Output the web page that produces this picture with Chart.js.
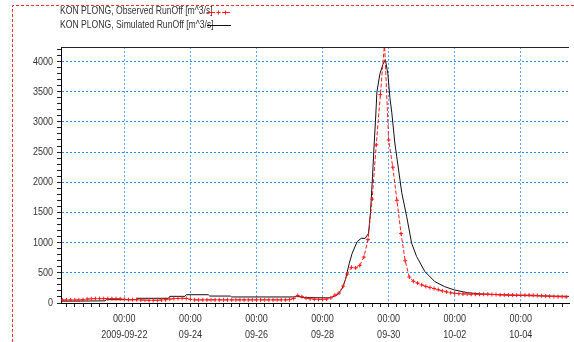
<!DOCTYPE html>
<html>
<head>
<meta charset="utf-8">
<script src="https://cdn.jsdelivr.net/npm/chart.js@4/dist/chart.umd.min.js"></script>
<style>
  body { margin: 0; background: #fff; }
  #wrap { position: relative; width: 574px; height: 342px; }
</style>
</head>
<body>
<div id="wrap"><canvas id="myChart" width="574" height="342"></canvas></div>
<script>
// series names
const seriesNames = ['KON PLONG, Observed RunOff [m^3/s]', 'KON PLONG, Simulated RunOff [m^3/s]'];

// hours counted from 2009-09-22 00:00
const obsStartHour = -45;
const obsStepHours = 3;
const obsValues = [
  50, 50, 50, 50, 50, 55, 65, 70, 72, 72,
  72, 72, 72, 72, 70, 60, 55, 55, 55, 50,
  48, 45, 45, 45, 50, 55, 65, 72, 75, 78,
  75, 60, 52, 52, 52, 52, 52, 52, 52, 52,
  52, 52, 52, 52, 52, 52, 52, 52, 52, 52,
  52, 52, 52, 52, 52, 55, 75, 125, 105, 80,
  70, 62, 60, 60, 65, 85, 130, 165, 280, 480,
  590, 580, 620, 760, 1050, 1720, 2620, 3450, 4300, 2700,
  2250, 1700, 1150, 700, 430, 360, 330, 300, 275, 255,
  240, 220, 200, 185, 170, 160, 155, 150, 150, 145,
  145, 145, 145, 145, 140, 140, 135, 135, 132, 132,
  130, 130, 130, 130, 128, 125, 120, 115, 110, 108,
  105, 105, 100
];

const simHours = [
  -46, -14, -13, 8, 9, 32, 33, 44, 45, 61, 62, 77, 78, 123, 126, 130, 148,
  149.7, 154.7, 158.3, 160.5, 163.4, 165.5, 169.1, 172, 174.9, 177.4, 178.8,
  180.3, 181.4, 182.4, 183.5, 185.7, 187.8, 189.6, 191.4, 192.9, 194.3, 196.5,
  197.9, 201.5, 205.1, 208.7, 212.3, 218.3, 225.5, 232.7, 239.9, 249.5, 259.1,
  269.9, 284.3, 305.9, 323.1
];
const simValues = [
  30, 35, 55, 55, 78, 78, 110, 110, 137, 137, 115, 115, 100, 100, 110, 90, 85,
  90, 132, 243, 381, 657, 823, 1015, 1071, 1071, 1154, 1500,
  2100, 2600, 3000, 3500, 3800, 3950, 4030, 3800, 3400, 3150, 2650,
  2420, 1830, 1430, 990, 770, 520, 355, 270, 215, 170, 150,
  140, 125, 116, 110
];

// axis
const xMinHour = -46;
const xMaxHour = 323;
const xTickHours = [0, 48, 96, 144, 192, 240, 288];
const xTickLabels = [
  ['00:00', '2009-09-22'], ['00:00', '09-24'], ['00:00', '09-26'], ['00:00', '09-28'],
  ['00:00', '09-30'], ['00:00', '10-02'], ['00:00', '10-04']
];
const yMax = 4240;
const yTickValues = [0, 500, 1000, 1500, 2000, 2500, 3000, 3500, 4000];

const FONT = '"Liberation Sans Narrow", "Arial Narrow", "Liberation Sans", sans-serif';
const NARROW = 0.82; // no narrow font installed, squeeze the text instead

const obsData = obsValues.map(function(v, i) { return {x: obsStartHour + i * obsStepHours, y: v}; });
const simData = simValues.map(function(v, i) { return {x: simHours[i], y: v}; });

// squeeze every text horizontally round its anchor point
const narrowText = {
  id: 'narrowText',
  beforeInit: function(chart) {
    const c = chart.ctx;
    const orig = c.fillText;
    c.fillText = function(text, x, y, maxWidth) {
      this.save();
      this.translate(x, y);
      this.scale(NARROW, 1);
      orig.call(this, text, 0, 0);
      this.restore();
    };
  }
};

// frame, legend, top border
const framePlugin = {
  id: 'framePlugin',
  afterDraw: function(chart) {
    const c = chart.ctx;
    const a = chart.chartArea;
    c.save();
    c.strokeStyle = '#222';
    c.lineWidth = 1;
    c.beginPath();
    c.moveTo(a.left, a.top + 0.5);
    c.lineTo(a.right, a.top + 0.5);
    c.stroke();

    c.strokeStyle = '#ff2a2a';
    c.setLineDash([3, 2]);
    c.beginPath();
    c.moveTo(12.5, chart.height);
    c.lineTo(12.5, 5.5);
    c.lineTo(chart.width, 5.5);
    c.stroke();

    // legend
    c.font = '10.5px ' + FONT;
    c.fillStyle = '#333';
    c.textBaseline = 'middle';
    c.textAlign = 'left';
    c.fillText(seriesNames[0], 60, 11.5);
    c.fillText(seriesNames[1], 60, 25.5);

    c.strokeStyle = '#ff2020';
    c.setLineDash([3, 2]);
    c.beginPath();
    c.moveTo(207, 12.5);
    c.lineTo(231, 12.5);
    c.stroke();
    c.setLineDash([]);
    [211.5, 218.5, 225.5].forEach(function(px) {
      c.beginPath();
      c.moveTo(px - 2, 12.5); c.lineTo(px + 2, 12.5);
      c.moveTo(px, 10.5); c.lineTo(px, 14.5);
      c.stroke();
    });
    c.strokeStyle = '#111';
    c.beginPath();
    c.moveTo(207, 25.5);
    c.lineTo(231, 25.5);
    c.stroke();
    c.restore();
  }
};

new Chart(document.getElementById('myChart'), {
  type: 'line',
  data: {
    datasets: [{
      label: seriesNames[0],
      data: obsData,
      borderColor: '#ff1a1a',
      borderWidth: 1,
      borderDash: [4, 2],
      pointStyle: 'cross',
      pointRadius: 2,
      pointBorderColor: '#ff1a1a',
      pointBorderWidth: 1,
      tension: 0
    }, {
      label: seriesNames[1],
      data: simData,
      borderColor: '#111',
      borderWidth: 1,
      pointRadius: 0,
      tension: 0
    }]
  },
  options: {
    responsive: false,
    animation: false,
    layout: { padding: { top: 47, left: 0, right: 0, bottom: 0 } },
    plugins: { legend: { display: false }, tooltip: { enabled: false } },
    scales: {
      x: {
        type: 'linear',
        min: xMinHour,
        max: xMaxHour,
        afterBuildTicks: function(scale) {
          const t = [];
          for (let h = -42; h <= xMaxHour; h += 6) t.push({value: h});
          scale.ticks = t;
        },
        afterFit: function(scale) { scale.height = 39; },
        ticks: {
          autoSkip: false,
          maxRotation: 0,
          padding: 4,
          color: '#333',
          font: { family: FONT, size: 11, lineHeight: '16px' },
          callback: function(value) {
            const i = xTickHours.indexOf(value);
            return i >= 0 ? xTickLabels[i] : '';
          }
        },
        grid: {
          color: function(ctx) {
            return ctx.tick && xTickHours.indexOf(ctx.tick.value) >= 0 ? '#5aa8f0' : 'rgba(0,0,0,0)';
          },
          tickColor: '#222',
          tickLength: 4,
          tickBorderDash: []
        },
        border: { color: '#000', width: 1, dash: [2, 2] }
      },
      y: {
        min: 0,
        max: yMax,
        afterBuildTicks: function(scale) {
          const t = [];
          for (let v = 0; v <= 4200; v += 100) t.push({value: v});
          scale.ticks = t;
        },
        afterFit: function(scale) { scale.width = 61; },
        ticks: {
          autoSkip: false,
          padding: 4,
          color: '#333',
          font: { family: FONT, size: 11 },
          callback: function(value) {
            return yTickValues.indexOf(value) >= 0 ? String(value) : '';
          }
        },
        grid: {
          color: function(ctx) {
            return ctx.tick && ctx.tick.value > 0 && yTickValues.indexOf(ctx.tick.value) >= 0 ? '#1e8fff' : 'rgba(0,0,0,0)';
          },
          tickColor: '#222',
          tickLength: 4,
          tickBorderDash: []
        },
        border: { color: '#000', width: 1, dash: [2, 2] }
      }
    }
  },
  plugins: [narrowText, framePlugin]
});
</script>
</body>
</html>
